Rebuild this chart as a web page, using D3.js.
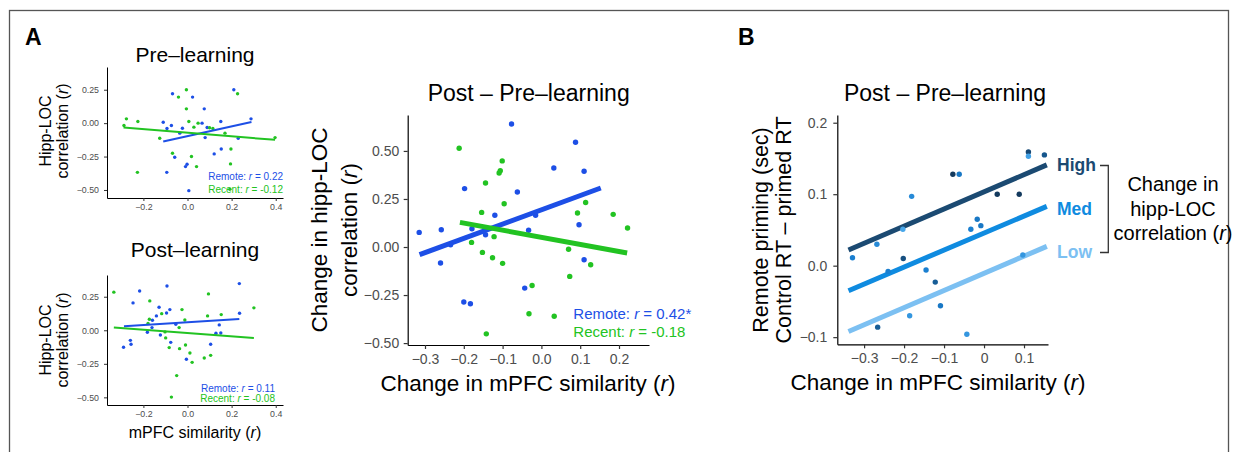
<!DOCTYPE html>
<html>
<head>
<meta charset="utf-8">
<script src="https://cdn.jsdelivr.net/npm/d3@7"></script>
<style>
  body { margin: 0; background: #fff; }
  text { font-family: "Liberation Sans", Arial, Helvetica, sans-serif; }
</style>
</head>
<body>
<svg id="fig" width="1236" height="452"></svg>
<script>
// values: [mPFC similarity, hipp-LOC correlation]
var preRemote = [[-0.068,0.22],[0.023,0.195],[0.21,0.25],[0.076,0.107],[-0.11,0.007],[-0.073,-0.018],[-0.093,-0.04],[-0.023,-0.038],[0.066,0.0],[0.089,-0.033],[0.151,0.012],[0.288,0.032],[-0.035,-0.075],[0.08,-0.108],[0.23,-0.113],[0.153,-0.193],[0.121,-0.23],[-0.058,-0.255],[-0.002,-0.308],[-0.009,-0.325],[-0.094,-0.368],[0.006,-0.505]]
var preRecent = [[-0.005,0.25],[-0.041,0.195],[0.227,0.22],[-0.005,0.107],[-0.277,0.032],[-0.225,0.012],[-0.288,-0.018],[0.006,0.012],[0.048,0.0],[0.029,-0.03],[0.1,-0.035],[0.115,-0.04],[0.17,-0.075],[-0.126,-0.113],[0.397,-0.108],[-0.068,-0.225],[0.018,-0.25],[0.197,-0.193],[0.041,-0.325],[0.195,-0.305],[-0.227,-0.368],[0.192,-0.495]]
var preRemoteFit = [[-0.11,-0.138],[0.29,0.008]]
var preRecentFit = [[-0.29,-0.033],[0.397,-0.125]]

var postRemote = [[-0.093,0.33],[0.235,0.348],[-0.217,0.293],[-0.247,0.204],[-0.129,0.172],[-0.08,0.154],[-0.095,0.129],[-0.141,0.107],[-0.159,0.075],[0.236,0.127],[-0.053,0.045],[-0.161,0.02],[-0.182,-0.015],[-0.123,-0.035],[0.144,0.04],[0.129,-0.022],[0.151,-0.02],[-0.076,-0.09],[-0.259,-0.075],[-0.256,-0.104],[-0.29,-0.127],[0.105,-0.104],[-0.005,-0.216]]
var postRecent = [[-0.334,0.284],[0.095,0.271],[-0.171,0.219],[0.301,0.167],[-0.025,0.154],[-0.117,0.124],[0.091,0.107],[0.153,0.117],[-0.173,0.082],[-0.012,0.077],[-0.179,0.05],[-0.038,0.02],[-0.102,-0.012],[-0.099,-0.057],[-0.083,-0.129],[-0.036,-0.137],[-0.009,-0.11],[0.011,-0.169],[0.021,-0.239],[0.076,-0.207],[0.105,-0.187],[-0.049,-0.338],[-0.073,-0.498]]
var postRemoteFit = [[-0.288,0.03],[0.235,0.084]]
var postRecentFit = [[-0.334,0.02],[0.301,-0.057]]

var diffRemote = [[-0.315,0.076],[-0.258,0.09],[-0.26,-0.083],[-0.234,0.012],[-0.198,0.304],[-0.179,0.095],[-0.144,0.064],[-0.12,0.165],[-0.077,0.64],[-0.062,0.286],[-0.033,0.087],[-0.015,0.165],[0.032,0.411],[0.088,0.545],[0.11,0.394],[0.097,0.116],[0.11,-0.066],[-0.043,-0.214],[-0.2,-0.286],[-0.183,-0.295]]
var diffRecent = [[-0.212,0.514],[-0.101,0.448],[-0.106,0.397],[-0.109,0.385],[-0.144,0.333],[-0.096,0.225],[-0.154,0.18],[-0.18,0.024],[-0.122,0.054],[-0.152,-0.028],[-0.126,-0.056],[-0.1,-0.085],[-0.024,-0.2],[0.07,-0.012],[0.073,-0.153],[0.127,-0.092],[0.093,0.177],[0.114,0.232],[0.185,0.17],[0.222,0.099],[-0.032,-0.347],[0.033,-0.36],[-0.142,-0.452]]
var diffRemoteFit = [[-0.314,-0.04],[0.153,0.307]]
var diffRecentFit = [[-0.21,0.128],[0.221,-0.031]]

// panel B: [mPFC change, remote priming], shade = hipp-LOC change (0 low .. 1 high)
var priming = [[-0.078,0.128],[-0.062,0.128],[-0.181,0.097],[-0.268,0.03],[-0.203,0.051],[0.033,0.1],[0.088,0.1],[0.111,0.159],[0.111,0.153],[0.151,0.155],[-0.017,0.065],[-0.033,0.051],[-0.008,0.056],[-0.329,0.011],[-0.202,0.01],[-0.24,-0.008],[-0.145,-0.006],[-0.122,-0.023],[-0.109,-0.056],[-0.186,-0.07],[-0.266,-0.086],[-0.043,-0.096],[0.097,0.015]]
var primingShade = [1,0.55,0.4,0.4,0.15,1,1,0.9,0.2,0.8,0.55,0.5,0.55,0.5,0.85,0.5,0.5,0.75,0.55,0.3,0.75,0.3,0.3]
var levelNames = ["High","Med","Low"]
var levelFits = [
  [[-0.339,0.022],[0.157,0.141]],
  [[-0.339,-0.035],[0.157,0.083]],
  [[-0.339,-0.092],[0.157,0.027]]
]

var smallYTicks = [-0.5,-0.25,0,0.25]
var smallXTicks = [-0.2,0,0.2,0.4]
var diffYTicks = [-0.5,-0.25,0,0.25,0.5]
var diffXTicks = [-0.3,-0.2,-0.1,0,0.1,0.2]
var bYTicks = [-0.1,0,0.1,0.2]
var bXTicks = [-0.3,-0.2,-0.1,0,0.1]

var blue = "#1d4fe6", green = "#22c322"
var levelColors = ["#1b4a72","#0f8be0","#7cc0f2"]
var shadeColor = d3.scaleLinear().domain([0,0.5,1]).range(["#5cb8f5","#1a7fd0","#143a5e"])

var svg = d3.select("#fig")

svg.append("rect")
  .attr("x", 9.5).attr("y", 10.5).attr("width", 1219).attr("height", 460)
  .attr("fill", "none").attr("stroke", "#555").attr("stroke-width", 1.3)

function addText(x, y, str, size, opts) {
  opts = opts || {}
  var t = svg.append("text")
    .attr("x", x).attr("y", y)
    .attr("font-size", size)
    .attr("text-anchor", opts.anchor || "middle")
    .attr("fill", opts.color || "#000")
  if (opts.bold) t.attr("font-weight", "bold")
  if (opts.rotate) t.attr("transform", "rotate(-90," + x + "," + y + ")")
  // "(r)" style italics: split on "|"
  var parts = str.split("|")
  parts.forEach(function(p, i) {
    var s = t.append("tspan").text(p)
    if (i % 2 == 1) s.attr("font-style", "italic")
  })
  return t
}

function drawAxes(p) {
  var ax = svg.append("g")
    .attr("transform", "translate(0," + p.bottom + ")")
    .call(d3.axisBottom(p.x).tickValues(p.xTicks).tickFormat(p.xFmt)
      .tickSize(p.tick).tickSizeOuter(0).tickPadding(p.xPad))
  var ay = svg.append("g")
    .attr("transform", "translate(" + p.left + ",0)")
    .call(d3.axisLeft(p.y).tickValues(p.yTicks).tickFormat(p.yFmt)
      .tickSize(p.tick).tickSizeOuter(0).tickPadding(p.yPad))
  ;[ax, ay].forEach(function(a) {
    a.attr("font-family", null).attr("font-size", null)
    a.select(".domain").attr("stroke", "#000").attr("stroke-width", p.axisW)
    a.selectAll(".tick line").attr("stroke", "#333").attr("stroke-width", p.axisW)
    a.selectAll(".tick text").attr("font-size", p.tickFont).attr("fill", "#4d4d4d")
  })
}

function drawPoints(p, pts, color, r) {
  svg.append("g").selectAll("circle")
    .data(pts)
    .enter().append("circle")
      .attr("cx", function(d) { return p.x(d[0]) })
      .attr("cy", function(d) { return p.y(d[1]) })
      .attr("r", r)
      .attr("fill", color)
}

function drawFit(p, fit, color, w) {
  var line = d3.line()
    .x(function(d) { return p.x(d[0]) })
    .y(function(d) { return p.y(d[1]) })
  svg.append("path")
    .datum(fit)
    .attr("d", line)
    .attr("fill", "none")
    .attr("stroke", color)
    .attr("stroke-width", w)
}

var f2 = d3.format(".2f"), f1 = d3.format(".1f")

// ---- A: small panels ----
var pre = {
  left: 107, bottom: 198,
  x: d3.scaleLinear().domain([-0.365, 0.433]).range([107, 283]),
  y: d3.scaleLinear().domain([-0.56, 0.42]).range([198, 67]),
  xTicks: smallXTicks, yTicks: smallYTicks, xFmt: f1, yFmt: f2,
  tick: 3, xPad: 3, yPad: 5, tickFont: 8.8, axisW: 1
}
var post = {
  left: 107, bottom: 405,
  x: d3.scaleLinear().domain([-0.365, 0.433]).range([107, 283]),
  y: d3.scaleLinear().domain([-0.557, 0.412]).range([405, 275]),
  xTicks: smallXTicks, yTicks: smallYTicks, xFmt: f1, yFmt: f2,
  tick: 3, xPad: 3, yPad: 5, tickFont: 8.8, axisW: 1
}

;[[pre, preRemote, preRecent, preRemoteFit, preRecentFit],
 [post, postRemote, postRecent, postRemoteFit, postRecentFit]].forEach(function(s) {
  drawAxes(s[0])
  drawPoints(s[0], s[1], blue, 1.7)
  drawPoints(s[0], s[2], green, 1.7)
  drawFit(s[0], s[3], blue, 2)
  drawFit(s[0], s[4], green, 2)
})

addText(25, 45, "A", 23, {anchor: "start", bold: true})
addText(195, 62, "Pre\u2013learning", 21)
addText(195, 257, "Post\u2013learning", 21)
addText(51, 131, "Hipp-LOC", 16, {rotate: true})
addText(67.5, 131, "correlation (|r|)", 16, {rotate: true})
addText(51, 340, "Hipp-LOC", 16, {rotate: true})
addText(67.5, 340, "correlation (|r|)", 16, {rotate: true})
addText(195, 438, "mPFC similarity (|r|)", 16)
addText(283, 180, "Remote: |r| = 0.22", 10, {anchor: "end", color: blue})
addText(283, 192.7, "Recent: |r| = -0.12", 10, {anchor: "end", color: green})
addText(275, 391.7, "Remote: |r| = 0.11", 10, {anchor: "end", color: blue})
addText(275, 402, "Recent: |r| = -0.08", 10, {anchor: "end", color: green})

// ---- A: difference panel ----
var diff = {
  left: 407.7, bottom: 345,
  x: d3.scaleLinear().domain([-0.3446, 0.2773]).range([407.7, 649]),
  y: d3.scaleLinear().domain([-0.51, 0.687]).range([345, 115]),
  xTicks: diffXTicks, yTicks: diffYTicks, xFmt: f1, yFmt: f2,
  tick: 4, xPad: 5, yPad: 4.5, tickFont: 14, axisW: 1.2
}
drawAxes(diff)
drawPoints(diff, diffRemote, blue, 2.7)
drawPoints(diff, diffRecent, green, 2.7)
drawFit(diff, diffRemoteFit, blue, 5)
drawFit(diff, diffRecentFit, green, 5)

addText(528.7, 100.7, "Post \u2013 Pre\u2013learning", 23)
addText(327, 230, "Change in hipp-LOC", 22.5, {rotate: true})
addText(357, 230, "correlation (|r|)", 22.5, {rotate: true})
addText(528, 391, "Change in mPFC similarity (|r|)", 22.5)
addText(573.3, 319.3, "Remote: |r| = 0.42*", 15, {anchor: "start", color: blue})
addText(573.3, 336.7, "Recent: |r| = -0.18", 15, {anchor: "start", color: green})

// ---- B ----
var bp = {
  left: 837.3, bottom: 344.3,
  x: d3.scaleLinear().domain([-0.367, 0.16]).range([837.3, 1048]),
  y: d3.scaleLinear().domain([-0.11, 0.2108]).range([344.3, 115]),
  xTicks: bXTicks, yTicks: bYTicks,
  xFmt: function(d) { return d === 0 ? "0" : f1(d) }, yFmt: f1,
  tick: 4, xPad: 5, yPad: 6, tickFont: 14, axisW: 1.2
}
drawAxes(bp)
levelFits.forEach(function(fit, i) { drawFit(bp, fit, levelColors[i], 5) })
svg.append("g").selectAll("circle")
  .data(priming)
  .enter().append("circle")
    .attr("cx", function(d) { return bp.x(d[0]) })
    .attr("cy", function(d) { return bp.y(d[1]) })
    .attr("r", 2.7)
    .attr("fill", function(d, i) { return shadeColor(primingShade[i]) })

addText(738, 45, "B", 23, {anchor: "start", bold: true})
addText(945, 100.7, "Post \u2013 Pre\u2013learning", 23)
addText(768, 230, "Remote priming (sec)", 21.5, {rotate: true})
addText(791, 230, "Control RT \u2013 primed RT", 21.5, {rotate: true})
addText(938, 390, "Change in mPFC similarity (|r|)", 22.5)

var labelY = [171, 215, 257.5]
levelNames.forEach(function(n, i) {
  addText(1057, labelY[i], n, 17.5, {anchor: "start", bold: true, color: levelColors[i]})
})
svg.append("path")
  .attr("d", "M1100,165.5H1108.3V252.5H1100")
  .attr("fill", "none").attr("stroke", "#333").attr("stroke-width", 1.3)
addText(1173, 191, "Change in", 20)
addText(1173, 216, "hipp-LOC", 20)
addText(1173, 240, "correlation (|r|)", 20)
</script>
</body>
</html>
